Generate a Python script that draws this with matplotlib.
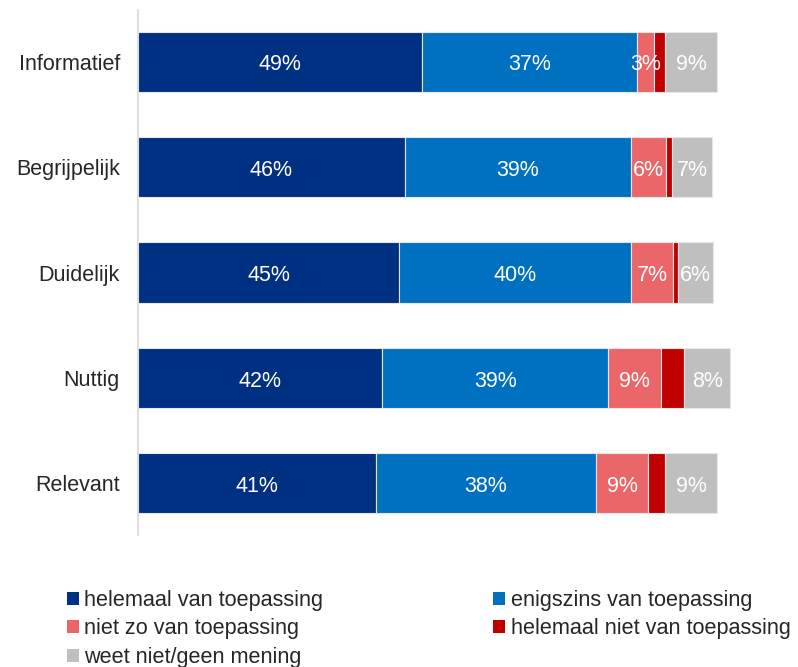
import numpy as np
import matplotlib
matplotlib.use("Agg")
from matplotlib import pyplot as plt
from matplotlib.patches import Patch

plt.rcParams['font.family'] = ['Liberation Sans', 'DejaVu Sans']

categories = ['Informatief', 'Begrijpelijk', 'Duidelijk', 'Nuttig', 'Relevant']
series = ['helemaal van toepassing', 'enigszins van toepassing',
          'niet zo van toepassing', 'helemaal niet van toepassing',
          'weet niet/geen mening']
helemaal = [49.0, 46.0, 45.0, 42.1, 41.0]
enigszins = [37.0, 39.0, 40.0, 39.0, 37.9]
niet_zo = [3.0, 6.0, 7.2, 9.1, 9.1]
helemaal_niet = [1.9, 1.0, 0.9, 4.0, 2.9]
weet_niet = [9.0, 7.0, 6.0, 7.9, 9.0]
colors_ = ['#003082', '#0070C0', '#EB6669', '#C00000', '#BFBFBF']
show_label = [True, True, True, False, True]

data = [helemaal, enigszins, niet_zo, helemaal_niet, weet_niet]
fs = 15.5

fig = plt.figure(figsize=(7.98, 6.67), dpi=100)
ax = fig.add_axes([138/798, 1-535/667, 660/798, 525/667])

y = np.arange(len(categories))
left = np.zeros(len(categories))
for vals, col, lab in zip(data, colors_, show_label):
    vals = np.array(vals)
    ax.barh(y, vals, left=left, height=0.57, color=col,
            edgecolor='#E6E6E6', linewidth=0.8)
    if lab:
        for yi, (l, v) in enumerate(zip(left, vals)):
            ax.text(l + v/2, yi + 0.03, '%d%%' % round(v), ha='center',
                    va='center', color='white', fontsize=fs)
    left += vals

ax.set_xlim(0, 660/5.8)
ax.set_ylim(4.49, -0.49)
ax.set_yticks(y)
ax.set_yticklabels(categories, fontsize=fs, color='#262626')
ax.tick_params(axis='y', length=0, pad=13)
ax.set_xticks([])
for s in ['top', 'right', 'bottom']:
    ax.spines[s].set_visible(False)
ax.spines['left'].set_color('#D9D9D9')
ax.spines['left'].set_linewidth(1.2)

handles = [Patch(facecolor=c, edgecolor='none') for c in colors_]
order = [0, 2, 4, 1, 3]
leg = fig.legend([handles[i] for i in order], [series[i] for i in order],
                 loc='upper left', bbox_to_anchor=(67/798, 1-590/667),
                 ncol=2, frameon=False, fontsize=15.6, handlelength=0.55,
                 handleheight=0.55, handletextpad=0.25, columnspacing=7.85,
                 labelspacing=0.34, borderpad=0, borderaxespad=0)
for t in leg.get_texts():
    t.set_color('#262626')

fig.savefig('out.png', dpi=100)
